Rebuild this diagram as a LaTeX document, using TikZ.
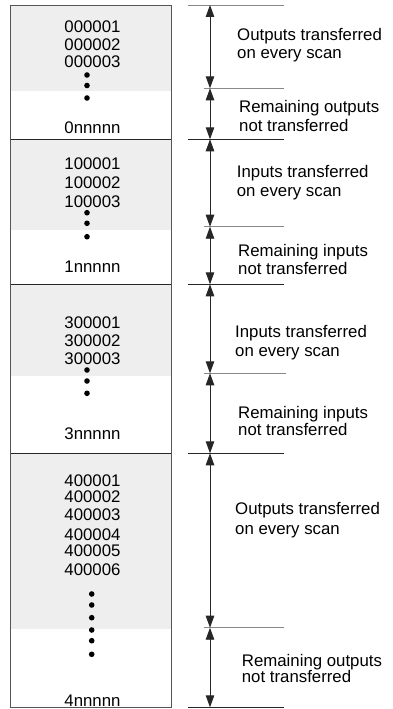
\documentclass[tikz,border=0pt]{standalone}
\usepackage{fontspec}
\setmainfont{Liberation Sans}
\usetikzlibrary{arrows.meta}
\definecolor{panelgray}{HTML}{EEEEEE}
\definecolor{frame}{HTML}{555555}
\definecolor{midline}{HTML}{888888}
\begin{document}
\begin{tikzpicture}[x=1pt,y=-1pt,
  txt/.style={inner sep=0pt,font=\fontsize{16.8}{17.5}\selectfont,text=black},
  num/.style={txt,anchor=base},
  lab/.style={txt,anchor=base west},
  dot/.style={circle,fill=black,inner sep=0pt,minimum size=5.6pt},
  dim/.style={draw=black!85,line width=0.9pt,{Triangle[length=12pt,width=8.5pt]}-{Triangle[length=12pt,width=8.5pt]}},
  bound/.style={draw=black!85,line width=0.8pt},
  mid/.style={draw=midline,line width=0.8pt}]
\useasboundingbox (0,0) rectangle (392,709);
% shaded parts
\fill[panelgray] (10,5) rectangle (171,91);
\fill[panelgray] (10,139.3) rectangle (171,230);
\fill[panelgray] (10,284.3) rectangle (171,375.7);
\fill[panelgray] (10,453.3) rectangle (171,629);
% section dividers
\draw[bound] (10,139.3) -- (171,139.3);
\draw[bound] (10,284.3) -- (171,284.3);
\draw[bound] (10,453.3) -- (171,453.3);
\draw[draw=frame,line width=0.8pt] (10,5) rectangle (171,707.3);
% left texts
\node[num] (a1) at (92.5,32.7) {000001};
\node[num] (a2) at (92.5,50.3) {000002};
\node[num] (a3) at (92.5,67.7) {000003};
\node[dot] (ad1) at (87,75) {};
\node[dot] (ad2) at (87,85.5) {};
\node[dot] (ad3) at (87,98) {};
\node[num] (an) at (92.5,133.7) {0nnnnn};
\node[num] (b1) at (92.5,169.3) {100001};
\node[num] (b2) at (92.5,188.7) {100002};
\node[num] (b3) at (92.5,207.7) {100003};
\node[dot] (bd1) at (87,212.7) {};
\node[dot] (bd2) at (87,223.3) {};
\node[dot] (bd3) at (87,236.7) {};
\node[num] (bn) at (92.5,272) {1nnnnn};
\node[num] (c1) at (92.5,328.7) {300001};
\node[num] (c2) at (92.5,346) {300002};
\node[num] (c3) at (92.5,364.3) {300003};
\node[dot] (cd1) at (87,370) {};
\node[dot] (cd2) at (87,381) {};
\node[dot] (cd3) at (87,393.3) {};
\node[num] (cn) at (92.5,439.3) {3nnnnn};
\node[num] (d1) at (92.5,486) {400001};
\node[num] (d2) at (92.5,502) {400002};
\node[num] (d3) at (92.5,520.3) {400003};
\node[num] (d4) at (92.5,540) {400004};
\node[num] (d5) at (92.5,556.7) {400005};
\node[num] (d6) at (92.5,575.3) {400006};
\node[dot] (dd1) at (91.7,594) {};
\node[dot] (dd2) at (91.7,605) {};
\node[dot] (dd3) at (91.7,617.7) {};
\node[dot] (dd4) at (91.7,630) {};
\node[dot] (dd5) at (91.7,640.7) {};
\node[dot] (dd6) at (91.7,654.3) {};
\node[num] (dn) at (92.5,706) {4nnnnn};
% right dimension lines
\coordinate (t0) at (210,5);
\coordinate (t1) at (210,88.3);
\coordinate (t2) at (210,139.3);
\coordinate (t3) at (210,226.7);
\coordinate (t4) at (210,284.3);
\coordinate (t5) at (210,373.3);
\coordinate (t6) at (210,453.3);
\coordinate (t7) at (210,627.7);
\coordinate (t8) at (210,707.3);
\draw[mid] (188,5) -- (284,5);
\draw[mid] (204,88.3) -- (284,88.3);
\draw[bound] (188,139.3) -- (284,139.3);
\draw[mid] (204,226.7) -- (284,226.7);
\draw[bound] (188,284.3) -- (284,284.3);
\draw[mid] (204,373.3) -- (286,373.3);
\draw[bound] (188,453.3) -- (284,453.3);
\draw[mid] (204,627.7) -- (284,627.7);
\draw[bound] (188,707.3) -- (284,707.3);
\draw[dim] (t0) -- (t1);
\draw[dim] (t1) -- (t2);
\draw[dim] (t2) -- (t3);
\draw[dim] (t3) -- (t4);
\draw[dim] (t4) -- (t5);
\draw[dim] (t5) -- (t6);
\draw[dim] (t6) -- (t7);
\draw[dim] (t7) -- (t8);
% right labels
\node[lab] (r1a) at (237,41) {Outputs transferred};
\node[lab] (r1b) at (237,59) {on every scan};
\node[lab] (r2a) at (239,112.7) {Remaining outputs};
\node[lab] (r2b) at (239,131) {not transferred};
\node[lab] (r3a) at (236.7,177.7) {Inputs transferred};
\node[lab] (r3b) at (236.7,196) {on every scan};
\node[lab] (r4a) at (238,256) {Remaining inputs};
\node[lab] (r4b) at (238,274.3) {not transferred};
\node[lab] (r5a) at (235,337.7) {Inputs transferred};
\node[lab] (r5b) at (235,356) {on every scan};
\node[lab] (r6a) at (238,418.7) {Remaining inputs};
\node[lab] (r6b) at (238,435.3) {not transferred};
\node[lab] (r7a) at (235,514.3) {Outputs transferred};
\node[lab] (r7b) at (235,534.3) {on every scan};
\node[lab] (r8a) at (241.7,666) {Remaining outputs};
\node[lab] (r8b) at (241.7,682.7) {not transferred};
\end{tikzpicture}
\end{document}
